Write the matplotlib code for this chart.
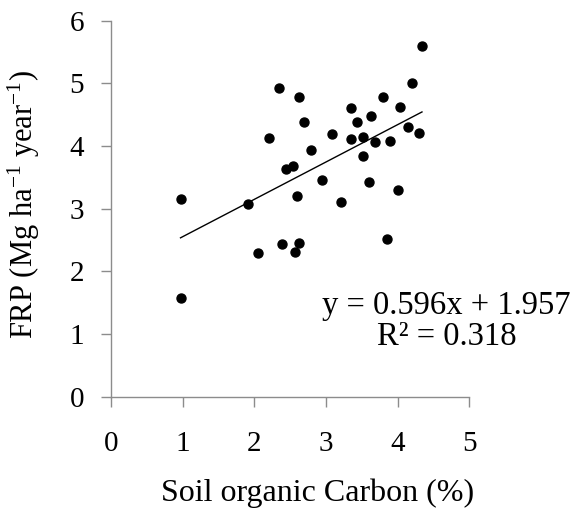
import matplotlib
matplotlib.use("Agg")
import matplotlib.pyplot as plt
import numpy as np

# --- Data ---
soil_carbon = [0.97, 0.97, 1.91, 2.05, 2.20, 2.35, 2.39, 2.44, 2.54, 2.57,
               2.63, 2.60, 2.63, 2.70, 2.79, 2.95, 3.08, 3.21, 3.35, 3.35,
               3.44, 3.51, 3.51, 3.60, 3.63, 3.68, 3.80, 3.85, 3.90, 4.00,
               4.03, 4.14, 4.20, 4.30, 4.34]
frp = [3.15, 1.58, 3.07, 2.29, 4.13, 4.92, 2.44, 3.64, 3.68, 2.31,
       2.45, 3.20, 4.79, 4.39, 3.94, 3.45, 4.19, 3.11, 4.60, 4.11,
       4.38, 4.15, 3.84, 3.42, 4.48, 4.06, 4.78, 2.51, 4.08, 3.30,
       4.63, 4.30, 5.01, 4.21, 5.59]
slope = 0.596
intercept = 1.957
r_squared = 0.318
x_ticks = [0, 1, 2, 3, 4, 5]
y_ticks = [0, 1, 2, 3, 4, 5, 6]

plt.rcParams['font.family'] = ['Liberation Serif', 'DejaVu Serif']
plt.rcParams['mathtext.fontset'] = 'custom'
plt.rcParams['mathtext.rm'] = 'Liberation Serif'
plt.rcParams['mathtext.it'] = 'Liberation Serif:italic'

fig = plt.figure(figsize=(5.77, 5.17), dpi=100)
ax = fig.add_axes([0.1924, 0.2327, 0.6209, 0.7273])

ax.scatter(soil_carbon, frp, s=42, color='black', zorder=3)

xfit = np.array([min(soil_carbon), max(soil_carbon)])
ax.plot(xfit, slope * xfit + intercept, color='black', linewidth=1.0)

ax.text(4.68, 1.20, f"y = {slope}x + {intercept}\nR\u00b2 = {r_squared}",
        ha='center', va='center', multialignment='center',
        fontsize=23.5, linespacing=1.0)

ax.set_xlim(0, 5)
ax.set_ylim(0, 6)
ax.set_xticks(x_ticks)
ax.set_yticks(y_ticks)

for side in ['top', 'right']:
    ax.spines[side].set_visible(False)
for side in ['left', 'bottom']:
    ax.spines[side].set_color('#8c8c8c')
    ax.spines[side].set_linewidth(1.0)

ax.tick_params(axis='both', direction='out', length=7.5, width=1.0,
               color='#8c8c8c', labelsize=21)
ax.tick_params(axis='x', pad=17)
ax.tick_params(axis='y', pad=12)

ax.set_xlabel('Soil organic Carbon (%)', fontsize=23)
ax.xaxis.set_label_coords(0.577, -0.218)
ax.set_ylabel('FRP (Mg ha$^{-1}$ year$^{-1}$)', fontsize=22)
ax.yaxis.set_label_coords(-0.194, 0.51)

fig.savefig('out.png', dpi=100, facecolor='white')
